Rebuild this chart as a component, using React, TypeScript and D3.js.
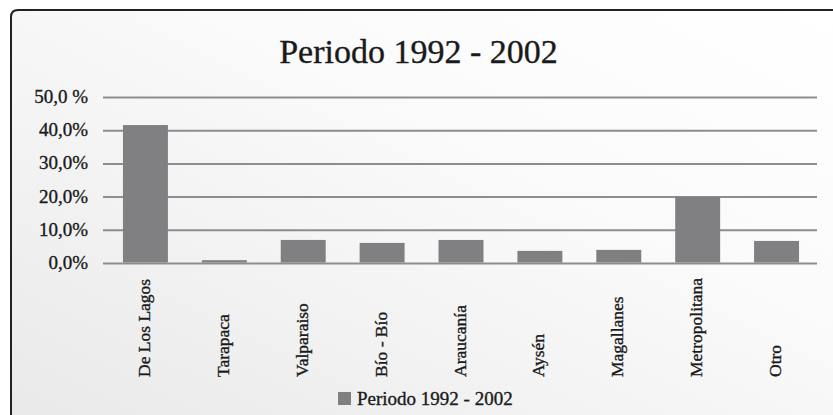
import React from "react";
import * as d3 from "d3";

const categories = ["De Los Lagos", "Tarapaca", "Valparaiso", "Bío - Bío", "Araucanía", "Aysén", "Magallanes", "Metropolitana", "Otro"];
const values = [41.7, 1.0, 7.1, 6.2, 7.1, 3.8, 4.1, 20.1, 6.8];
const tickValues = [0, 10, 20, 30, 40, 50];
const tickLabels = ["0,0%", "10,0%", "20,0%", "30,0%", "40,0%", "50,0 %"];
const title = "Periodo 1992 - 2002";
const seriesName = "Periodo 1992 - 2002";

const W = 833;
const H = 415;
const FONT = "'Liberation Serif', 'Times New Roman', serif";
const BAR = "#808083";
const GRID = "#8d8d8f";
const INK = "#1a1a1a";

export default function App() {
  const x = d3.scaleBand<string>().domain(categories).range([106, 816]).paddingInner(0.43).paddingOuter(0.215);
  const y = d3.scaleLinear().domain([0, 50]).range([263.5, 97.5]);
  const r = 7;
  const framePath = `M11,${H + 5} L11,${10 + r} Q11,10 ${11 + r},10 L${W + 5},10`;
  const heavy = { stroke: INK, strokeWidth: 0.35 };
  return (
    <svg width={W} height={H} style={{ position: "absolute", left: 0, top: 0, display: "block" }}>
      <defs>
        <linearGradient id="bg" x1="0" y1="1" x2="1" y2="0">
          <stop offset="0" stopColor="#e9e9ea" />
          <stop offset="0.6" stopColor="#fafafa" />
          <stop offset="1" stopColor="#ffffff" />
        </linearGradient>
      </defs>
      <rect x={0} y={0} width={W} height={H} fill="#ffffff" />
      <path d={`M11,${H + 5} L11,${10 + r} Q11,10 ${11 + r},10 L${W + 5},10 L${W + 5},${H + 5} Z`} fill="url(#bg)" />
      <path d={framePath} fill="none" stroke="#222" strokeWidth={2} />
      <text x={418.5} y={63} textAnchor="middle" fontFamily={FONT} fontSize={34} fill={INK} {...heavy}>{title}</text>
      {tickValues.map((t, i) => (
        <g key={t}>
          <line x1={103} x2={817} y1={y(t)} y2={y(t)} stroke={GRID} strokeWidth={2} />
          <text x={88} y={y(t) + 5.5} textAnchor="end" fontFamily={FONT} fontSize={19} fill={INK} {...heavy}>{tickLabels[i]}</text>
        </g>
      ))}
      {categories.map((c, i) => (
        <rect key={c} x={x(c)} y={y(values[i])} width={x.bandwidth()} height={y(0) - y(values[i]) - 1} fill={BAR} />
      ))}
      {categories.map((c) => {
        const cx = (x(c) as number) + x.bandwidth() / 2 + 4.5;
        return (
          <text key={c} transform={`translate(${cx},377) rotate(-90)`} textAnchor="start" fontFamily={FONT} fontSize={17.5} fill={INK} {...heavy}>{c}</text>
        );
      })}
      <rect x={338} y={392} width={13} height={13} fill={BAR} />
      <text x={357} y={405} fontFamily={FONT} fontSize={19} fill={INK} {...heavy}>{seriesName}</text>
    </svg>
  );
}
